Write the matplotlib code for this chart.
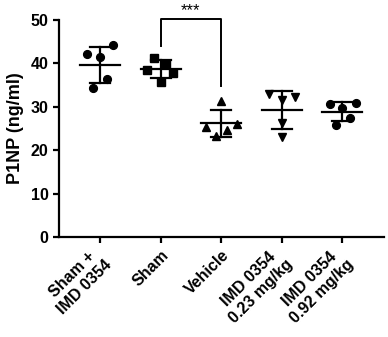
import matplotlib
matplotlib.use('Agg')
import matplotlib.pyplot as plt
import matplotlib.transforms as mtransforms
import numpy as np

plt.rcParams['font.family'] = ['Liberation Sans', 'DejaVu Sans']
plt.rcParams['font.weight'] = 'bold'

# group names and raw P1NP values (ng/ml)
groups = ['Sham +\nIMD 0354', 'Sham', 'Vehicle', 'IMD 0354\n0.23 mg/kg', 'IMD 0354\n0.92 mg/kg']
sham_imd = [42.2, 34.3, 41.4, 36.3, 44.1]
sham = [41.3, 38.5, 39.9, 37.7, 35.8]
vehicle = [31.3, 25.4, 26.0, 24.7, 23.3]
imd_023 = [33.0, 32.3, 31.6, 26.2, 23.1]
imd_092 = [30.6, 30.9, 29.6, 27.3, 25.8]
# horizontal scatter of the dots inside each column
jitter = [[-0.22, -0.11, 0.0, 0.11, 0.22],
          [-0.11, -0.23, 0.09, 0.21, 0.0],
          [0.0, -0.25, 0.26, 0.09, -0.09],
          [-0.21, 0.21, 0.0, 0.0, 0.0],
          [-0.2, 0.23, 0.0, 0.12, -0.1]]
markers = ['o', 's', '^', 'v', 'o']
sizes = [5.6, 5.2, 5.8, 5.8, 5.6]

data = [sham_imd, sham, vehicle, imd_023, imd_092]

fig = plt.figure(figsize=(3.88, 3.37), dpi=100)
ax = fig.add_axes([0.152, 0.297, 0.838, 0.644])

for i, vals in enumerate(data):
    vals = np.array(vals)
    xs = i + np.array(jitter[i])
    ax.plot(xs, vals, linestyle='', marker=markers[i], markersize=sizes[i],
            color='black', zorder=3)
    m = vals.mean()
    sd = vals.std(ddof=1)
    ax.plot([i - 0.33, i + 0.33], [m, m], color='black', lw=1.6, zorder=4)
    ax.plot([i, i], [m - sd, m + sd], color='black', lw=1.6, zorder=4)
    ax.plot([i - 0.165, i + 0.165], [m + sd, m + sd], color='black', lw=1.6, zorder=4)
    ax.plot([i - 0.165, i + 0.165], [m - sd, m - sd], color='black', lw=1.6, zorder=4)

# significance bracket Sham vs Vehicle
ax.plot([1, 1, 2, 2], [43.9, 50.2, 50.2, 34.8], color='black', lw=1.4, clip_on=False)
ax.text(1.5, 50.3, '***', ha='center', va='bottom', fontsize=12, fontweight='normal')

ax.spines['top'].set_visible(False)
ax.spines['right'].set_visible(False)
ax.spines['left'].set_linewidth(1.6)
ax.spines['bottom'].set_linewidth(1.6)
ax.tick_params(width=1.6, length=4, direction='out')

ax.set_xlim(-0.68, 4.69)
ax.set_ylim(0, 50)
ax.set_yticks([0, 10, 20, 30, 40, 50])
ax.set_xticks(range(5))
ax.set_xticklabels(groups, rotation=45, ha='right', rotation_mode='anchor',
                   multialignment='center', fontsize=11.5, fontweight='bold')
# two-line labels sit a little further left in the original
# (done after tick_params, which would reset the label transforms)
shift = mtransforms.ScaledTranslation(-6.5 / 72, 1.8 / 72, fig.dpi_scale_trans)
for lab in ax.get_xticklabels():
    if '\n' in lab.get_text():
        lab.set_transform(lab.get_transform() + shift)
ax.set_ylabel('P1NP (ng/ml)', fontsize=13, fontweight='bold', labelpad=5)
for lab in ax.get_yticklabels():
    lab.set_fontsize(11.5)
    lab.set_fontweight('bold')

fig.savefig('out.png', dpi=100)
